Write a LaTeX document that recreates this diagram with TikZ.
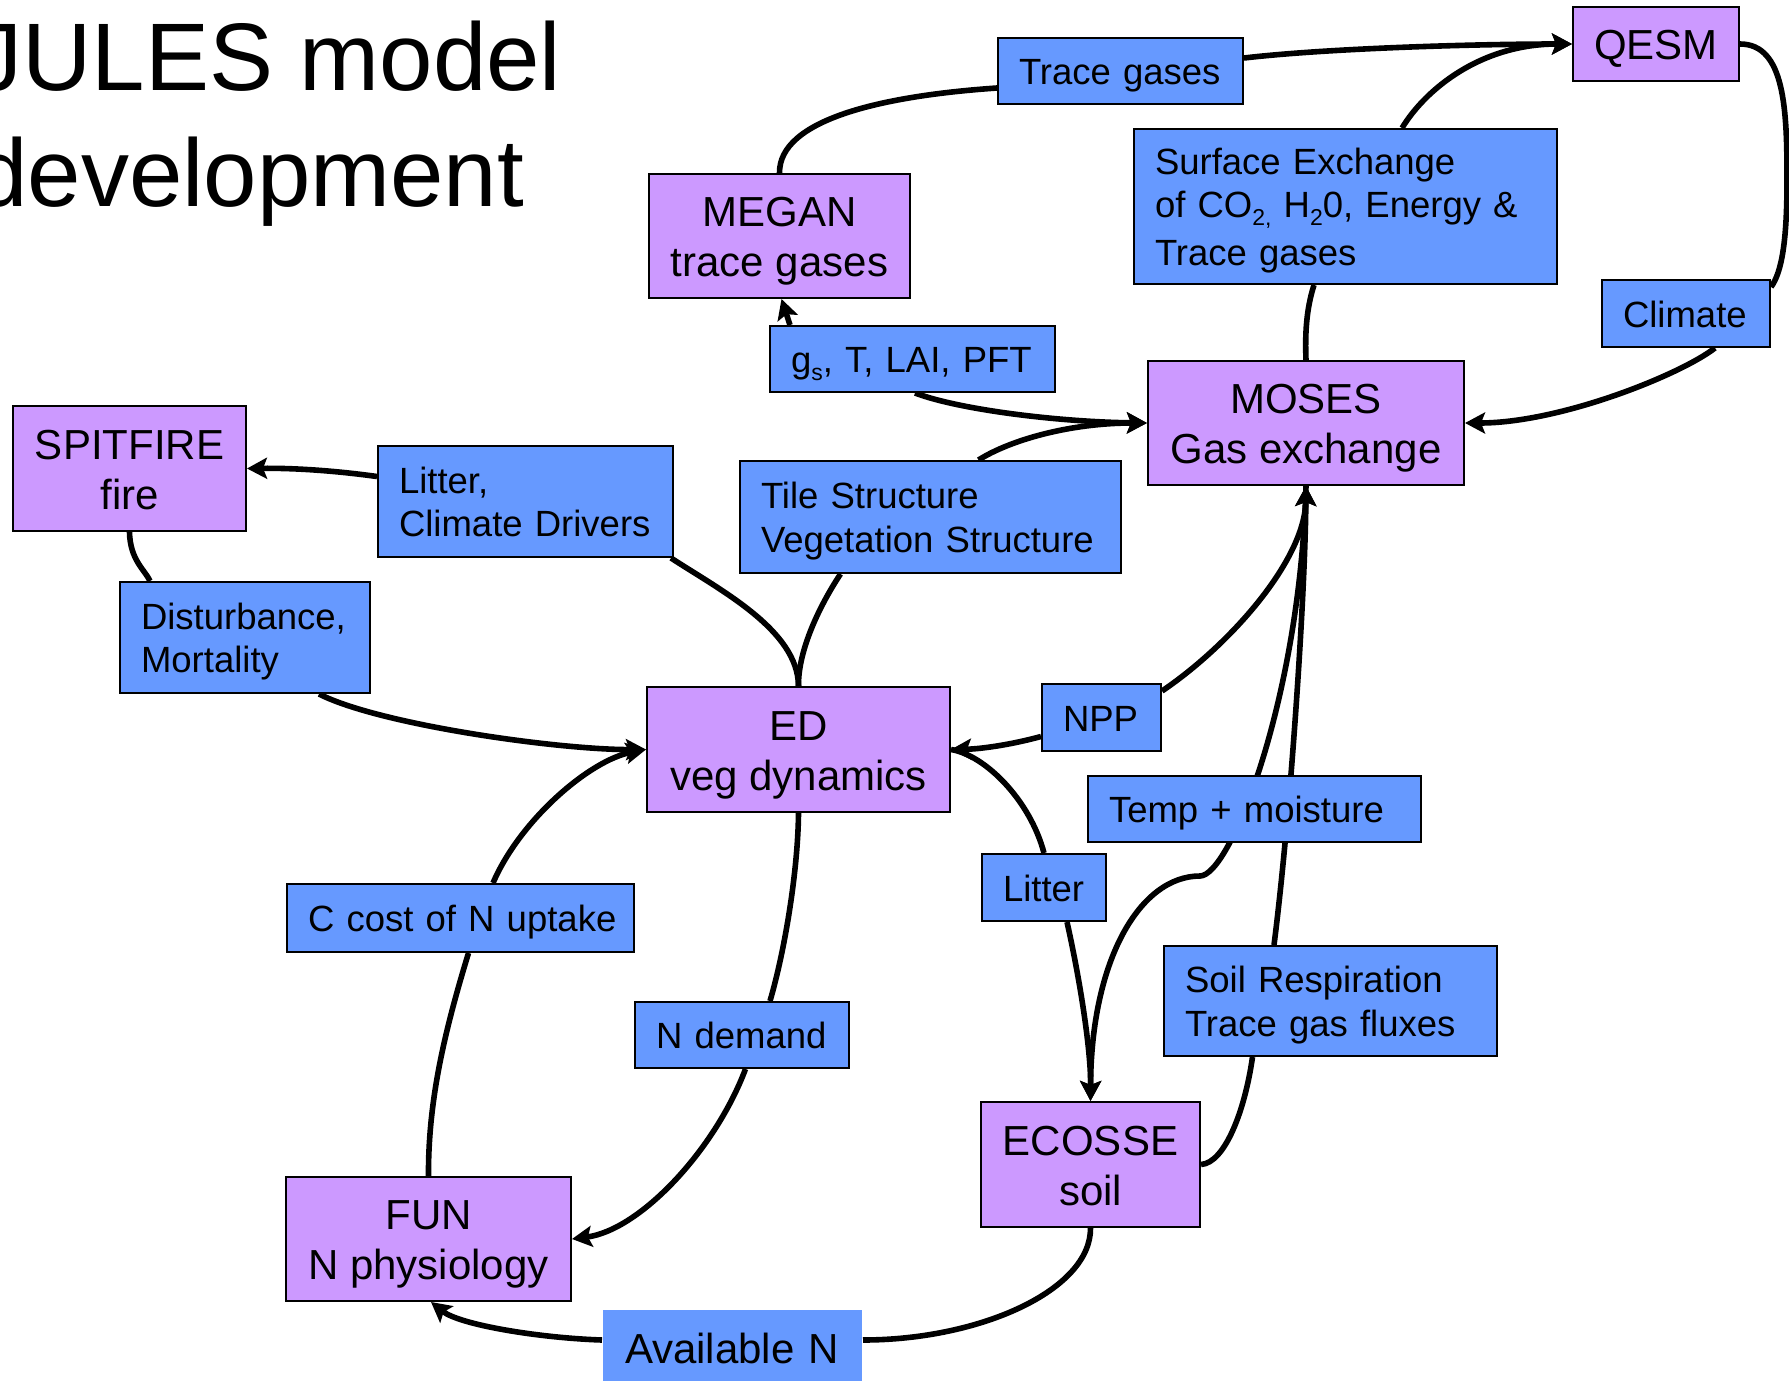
\documentclass[tikz,border=0pt]{standalone}
\usepackage{fontspec}
\setmainfont{Liberation Sans}
\usetikzlibrary{arrows.meta,calc}
\pgfdeclarelayer{bg}
\pgfsetlayers{bg,main}
\hyphenpenalty=10000
\exhyphenpenalty=10000
\definecolor{purp}{RGB}{204,153,255}
\definecolor{blu}{RGB}{102,153,255}
\newcommand{\lsub}[1]{\raisebox{-4pt}{\fontsize{11.5}{12}\selectfont #1}}
\newcommand{\st}{\rule[-0.2em]{0pt}{1.15em}}
\tikzset{
  purpbox/.style={draw=black, line width=1pt, fill=purp, align=center, inner sep=0pt,
    font=\fontsize{21}{25}\selectfont},
  blubox/.style={draw=black, line width=1pt, fill=blu, align=left, inner xsep=10.5pt, inner ysep=0pt,
    font=\fontsize{18.25}{21.75}\selectfont},
  titletext/.style={anchor=base west, inner sep=0pt, font=\fontsize{48}{58}\selectfont},
  conn/.style={line width=2.8pt},
  arr/.style={conn, -{Stealth[length=10pt,width=10.5pt,inset=2pt]}}
}
\begin{document}
\begin{tikzpicture}[x=0.5pt,y=-0.5pt]
\useasboundingbox (0,0) rectangle (1789,1381);
\begin{pgfonlayer}{bg}
\fill[white] (0,0) rectangle (1789,1381);
\end{pgfonlayer}

% title
\node[titletext] (title1) at (-26,90.7) {JULES model};
\node[titletext] (title2) at (-26,206.7) {development};

% purple model boxes
\node[purpbox, minimum width=83pt, minimum height=37pt] (qesm) at (1656,44) {\st QESM\st};
\node[purpbox, minimum width=130.5pt, minimum height=62pt] (megan) at (779.5,236) {\st MEGAN\\trace gases\st};
\node[purpbox, minimum width=158pt, minimum height=62pt] (moses) at (1306,423) {\st MOSES\\Gas exchange\st};
\node[purpbox, minimum width=116.5pt, minimum height=62.5pt] (spit) at (129.5,468.5) {\st SPITFIRE\\fire\st};
\node[purpbox, minimum width=151.5pt, minimum height=62.5pt] (ed) at (798.5,749.5) {\st ED\\veg dynamics\st};
\node[purpbox, minimum width=109.5pt, minimum height=62.5pt] (ecosse) at (1090.5,1164.5) {\st ECOSSE\\soil\st};
\node[purpbox, minimum width=142.5pt, minimum height=62pt] (fun) at (428.5,1239) {\st FUN\\N physiology\st};

% blue flux boxes
\node[blubox, text width=101.5pt, minimum height=33pt] (tg) at (1120.5,71) {\st Trace~gases\st};
\node[blubox, text width=190.5pt, minimum height=77.5pt] (surf) at (1345.5,206.5)
  {\st Surface~Exchange\\of~CO\lsub{2,}~H\lsub{2}0,~Energy~\&\\Trace~gases\st};
\node[blubox, text width=63pt, minimum height=33.5pt] (clim) at (1686,313.5) {\st Climate\st};
\node[blubox, text width=121.5pt, minimum height=33pt] (gs) at (912.5,359) {\st g\lsub{s},~T,~LAI,~PFT\st};
\node[blubox, text width=126.5pt, minimum height=55.5pt] (litcd) at (525.5,501.5) {\st Litter,\\Climate~Drivers\st};
\node[blubox, text width=169.5pt, minimum height=56pt] (tile) at (930.5,517) {\st Tile~Structure\\Vegetation~Structure\st};
\node[blubox, text width=104pt, minimum height=55.5pt] (dist) at (245,637.5) {\st Disturbance,\\Mortality\st};
\node[blubox, text width=38.5pt, minimum height=33.5pt] (npp) at (1101.5,717.5) {\st NPP\st};
\node[blubox, text width=145.5pt, minimum height=33pt] (tm) at (1254.5,809) {\st Temp~+~moisture\st};
\node[blubox, text width=41pt, minimum height=33.5pt] (lit2) at (1044,887.5) {\st Litter\st};
\node[blubox, text width=152.5pt, minimum height=34pt] (ccost) at (460.5,918) {\st C~cost~of~N~\mbox{uptake}\st};
\node[blubox, text width=145.5pt, minimum height=55pt] (soil) at (1330.5,1001) {\st Soil~Respiration\\Trace~gas~fluxes\st};
\node[blubox, text width=86pt, minimum height=33pt] (nd) at (742,1035) {\st N~demand\st};
\node[blubox, draw=none, text width=107.5pt, minimum height=38pt, inner xsep=11pt,
  font=\fontsize{21}{25}\selectfont] (avail) at (732.5,1348) {\st Available~N\st};

\begin{pgfonlayer}{bg}
% MEGAN - Trace gases - QESM
\draw[conn] (megan.north) .. controls (779,120) and (880,96) .. ($(tg.west)+(0,17)$);
\draw[arr] ($(tg.east)+(0,-13)$) .. controls (1330,48) and (1480,44) .. (qesm.west);
\draw[arr] ($(surf.north)+(56.5,0)$) .. controls (1425,90) and (1480,44) .. (qesm.west);
% QESM - Climate - MOSES
\draw[conn] (qesm.east) .. controls (1785,44) and (1787,110) .. (1787,180)
  .. controls (1787,240) and (1782,272) .. ($(clim.north east)+(0,8)$);
\draw[arr] ($(clim.south)+(29,0)$) .. controls (1680,375) and (1560,423) .. (moses.east);
% Surface exchange - MOSES
\draw[conn] ($(surf.south)+(-31.5,0)$) .. controls (1306,310) and (1305,335) .. (moses.north);
% gs
\draw[arr] ($(gs.north)+(-122.5,0)$) -- ($(megan.south)+(2,0)$);
\draw[arr] ($(gs.south)+(2.5,0)$) .. controls (960,410) and (1060,422) .. (moses.west);
% Tile structure
\draw[arr] ($(tile.north)+(48,0)$) .. controls (1010,440) and (1070,423) .. (moses.west);
\draw[conn] ($(tile.south)+(-90,0)$) .. controls (820,605) and (798,650) .. (ed.north);
% Litter, climate drivers
\draw[arr] ($(litcd.west)+(0,-25)$) .. controls (330,470) and (290,468) .. (spit.east);
\draw[conn] ($(litcd.south east)+(-3,0)$) .. controls (720,590) and (798,630) .. (ed.north);
% SPITFIRE - disturbance - ED
\draw[conn] (spit.south) .. controls (130,560) and (145,570) .. ($(dist.north)+(-95,0)$);
\draw[arr] ($(dist.south)+(74,0)$) .. controls (380,725) and (560,750) .. (ed.west);
% FUN - C cost - ED
\draw[arr] ($(ccost.north)+(32.5,0)$) .. controls (520,820) and (590,760) .. (ed.west);
\draw[conn] (fun.north) .. controls (428,1100) and (445,1030) .. ($(ccost.south)+(8,0)$);
% ED - N demand - FUN
\draw[conn] (ed.south) .. controls (798,870) and (785,950) .. ($(nd.north)+(28,0)$);
\draw[arr] ($(nd.south)+(3.5,0)$) .. controls (715,1150) and (640,1230) .. (fun.east);
% ECOSSE - Available N - FUN
\draw[conn] (ecosse.south) .. controls (1091,1290) and (980,1340) .. ($(avail.east)+(0,-8)$);
\draw[arr] ($(avail.west)+(0,-8)$) .. controls (540,1338) and (460,1325) .. ($(fun.south)+(2.5,0)$);
% NPP
\draw[arr] ($(npp.west)+(0,19)$) .. controls (1010,745) and (980,749) .. (ed.east);
\draw[arr] ($(npp.north east)+(0,8)$) .. controls (1230,645) and (1305,560) .. (moses.south);
% Soil respiration
\draw[arr] ($(soil.north)+(-56.5,0)$) .. controls (1290,820) and (1305,600) .. (moses.south);
\draw[conn] ($(soil.south)+(-78,0)$) .. controls (1245,1110) and (1225,1163) .. (ecosse.east);
% Temp + moisture
\draw[arr] (moses.south) .. controls (1300,700) and (1230,876) .. (1200,876)
  .. controls (1140,876) and (1091,960) .. (ecosse.north);
% Litter
\draw[conn] (ed.east) .. controls (985,755) and (1030,800) .. (lit2.north);
\draw[arr] ($(lit2.south)+(23,0)$) .. controls (1080,980) and (1091,1050) .. (ecosse.north);
\end{pgfonlayer}
\end{tikzpicture}
\end{document}
